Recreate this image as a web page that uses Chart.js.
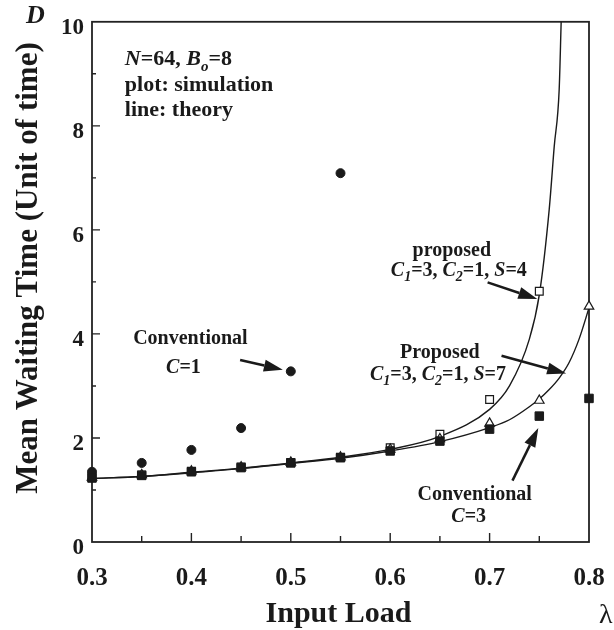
<!DOCTYPE html>
<html>
<head>
<meta charset="UTF-8">
<title>Mean Waiting Time vs Input Load</title>
<script src="https://cdn.jsdelivr.net/npm/chart.js"></script>
<style>
    html, body { margin: 0; padding: 0; background: #fff; }
    #wrap { width: 614px; height: 630px; position: relative; }
</style>
</head>
<body>
<div id="wrap"><canvas id="chart"></canvas></div>
<script>
// simulation points
const loads = [0.3, 0.35, 0.4, 0.45, 0.5, 0.55, 0.6, 0.65, 0.7, 0.75, 0.8];
const conventionalC1 = [1.35, 1.52, 1.77, 2.19, 3.28, 7.09];
const conventionalC3 = [1.23, 1.28, 1.35, 1.43, 1.52, 1.62, 1.75, 1.94, 2.17, 2.42, 2.76];
const proposedS4 = [1.24, 1.29, 1.36, 1.44, 1.53, 1.63, 1.81, 2.07, 2.74, 4.82];
const proposedS7 = [1.24, 1.29, 1.36, 1.44, 1.53, 1.63, 1.78, 1.98, 2.28, 2.72, 4.53];

// theory curves
const theoryLoadS4 = [0.3, 0.35, 0.4, 0.45, 0.5, 0.55, 0.6, 0.65, 0.7, 0.72, 0.74, 0.75, 0.76, 0.765, 0.77, 0.772];
const theoryS4 = [1.22, 1.26, 1.34, 1.42, 1.52, 1.63, 1.78, 2.03, 2.55, 3.0, 3.9, 4.75, 6.4, 7.6, 8.7, 10];
const theoryLoadS7 = [0.3, 0.35, 0.4, 0.45, 0.5, 0.55, 0.6, 0.65, 0.7, 0.72, 0.74, 0.75, 0.76, 0.77, 0.78, 0.79, 0.8];
const theoryS7 = [1.22, 1.26, 1.33, 1.41, 1.51, 1.61, 1.75, 1.93, 2.2, 2.35, 2.6, 2.75, 2.93, 3.15, 3.45, 3.9, 4.5];

const xTicks = [0.3, 0.4, 0.5, 0.6, 0.7, 0.8];
const yTicks = [0, 2, 4, 6, 8, 10];

const SERIF = "'Liberation Serif', 'Times New Roman', serif";
const INK = '#1a1a1a';

function pairs(xs, ys) {
    return ys.map((y, i) => ({ x: xs[i], y: y }));
}

// text made of runs: {t, i (italic), sub}
function drawRuns(ctx, runs, x, y, size, align) {
    const fontFor = r => (r.i ? 'italic ' : '') + 'bold ' + (r.sub ? Math.round(size * 0.7) : size) + 'px ' + SERIF;
    let total = 0;
    runs.forEach(r => { ctx.font = fontFor(r); total += ctx.measureText(r.t).width; });
    let cx = align === 'center' ? x - total / 2 : x;
    ctx.textAlign = 'left';
    ctx.textBaseline = 'alphabetic';
    runs.forEach(r => {
        ctx.font = fontFor(r);
        ctx.fillText(r.t, cx, r.sub ? y + size * 0.25 : y);
        cx += ctx.measureText(r.t).width;
    });
}

function drawArrow(ctx, x1, y1, x2, y2) {
    const ang = Math.atan2(y2 - y1, x2 - x1);
    const head = 19, half = 6;
    const bx = x2 - head * Math.cos(ang), by = y2 - head * Math.sin(ang);
    ctx.strokeStyle = INK;
    ctx.lineWidth = 2.5;
    ctx.beginPath();
    ctx.moveTo(x1, y1);
    ctx.lineTo(bx, by);
    ctx.stroke();
    ctx.fillStyle = INK;
    ctx.beginPath();
    ctx.moveTo(x2, y2);
    ctx.lineTo(bx + half * Math.sin(ang), by - half * Math.cos(ang));
    ctx.lineTo(bx - half * Math.sin(ang), by + half * Math.cos(ang));
    ctx.closePath();
    ctx.fill();
}

// annotations in data units
const notes = [
    { at: [0.399, 3.81], runs: [{ t: 'Conventional' }] },
    { at: [0.392, 3.24], runs: [{ t: 'C', i: 1 }, { t: '=1' }] },
    { at: [0.662, 5.50], runs: [{ t: 'proposed' }] },
    { at: [0.669, 5.12], runs: [{ t: 'C', i: 1 }, { t: '1', i: 1, sub: 1 }, { t: '=3, ' }, { t: 'C', i: 1 }, { t: '2', i: 1, sub: 1 }, { t: '=1, ' }, { t: 'S', i: 1 }, { t: '=4' }] },
    { at: [0.650, 3.54], runs: [{ t: 'Proposed' }] },
    { at: [0.648, 3.12], runs: [{ t: 'C', i: 1 }, { t: '1', i: 1, sub: 1 }, { t: '=3, ' }, { t: 'C', i: 1 }, { t: '2', i: 1, sub: 1 }, { t: '=1, ' }, { t: 'S', i: 1 }, { t: '=7' }] },
    { at: [0.685, 0.80], runs: [{ t: 'Conventional' }] },
    { at: [0.679, 0.38], runs: [{ t: 'C', i: 1 }, { t: '=3' }] }
];
const arrows = [
    [0.449, 3.50, 0.492, 3.31],
    [0.698, 4.99, 0.748, 4.67],
    [0.712, 3.58, 0.777, 3.24],
    [0.723, 1.18, 0.749, 2.19]
];
const legendLines = [
    { at: [0.333, 9.16], runs: [{ t: 'N', i: 1 }, { t: '=64, ' }, { t: 'B', i: 1 }, { t: 'o', i: 1, sub: 1 }, { t: '=8' }] },
    { at: [0.333, 8.67], runs: [{ t: 'plot: simulation' }] },
    { at: [0.333, 8.19], runs: [{ t: 'line: theory' }] }
];

const framePlugin = {
    id: 'frame',
    beforeDatasetsDraw(chart) {
        const { ctx, chartArea: a, scales: { x, y } } = chart;
        ctx.save();
        ctx.strokeStyle = '#222';
        ctx.lineWidth = 1.8;
        ctx.strokeRect(a.left, a.top, a.right - a.left, a.bottom - a.top);
        ctx.lineWidth = 1.4;
        ctx.beginPath();
        for (let v = 0.35; v < 0.8; v += 0.05) {
            const px = x.getPixelForValue(v);
            const major = Math.abs(v * 10 - Math.round(v * 10)) < 1e-6;
            ctx.moveTo(px, a.bottom);
            ctx.lineTo(px, a.bottom - (major ? 9 : 6));
        }
        for (let v = 1; v < 10; v++) {
            const py = y.getPixelForValue(v);
            ctx.moveTo(a.left, py);
            ctx.lineTo(a.left + (v % 2 === 0 ? 8 : 4), py);
        }
        ctx.stroke();
        ctx.restore();
    },
    afterDraw(chart) {
        const { ctx, chartArea: a, scales: { x, y } } = chart;
        ctx.save();
        ctx.fillStyle = INK;
        legendLines.forEach(l => drawRuns(ctx, l.runs, x.getPixelForValue(l.at[0]), y.getPixelForValue(l.at[1]), 22, 'left'));
        notes.forEach(n => drawRuns(ctx, n.runs, x.getPixelForValue(n.at[0]), y.getPixelForValue(n.at[1]), 20, 'center'));
        arrows.forEach(r => drawArrow(ctx, x.getPixelForValue(r[0]), y.getPixelForValue(r[1]), x.getPixelForValue(r[2]), y.getPixelForValue(r[3])));

        // axis titles
        ctx.fillStyle = INK;
        ctx.font = 'bold italic 26px ' + SERIF;
        ctx.textAlign = 'left';
        ctx.textBaseline = 'alphabetic';
        ctx.fillText('D', 26, 23);

        ctx.font = 'bold 30px ' + SERIF;
        ctx.textAlign = 'center';
        ctx.textBaseline = 'middle';
        ctx.fillText('Input Load', (a.left + a.right) / 2 - 2, 614);

        ctx.save();
        ctx.font = 'bold 31px ' + SERIF;
        ctx.translate(29, 268);
        ctx.rotate(-Math.PI / 2);
        ctx.fillText('Mean Waiting Time (Unit of time)', 0, 0);
        ctx.restore();

        ctx.font = '28px ' + SERIF;
        ctx.textAlign = 'left';
        ctx.fillText('\u03bb', 599, 616);
        ctx.restore();
    }
};

new Chart(document.getElementById('chart'), {
    type: 'scatter',
    data: {
        datasets: [
            {
                label: 'Conventional C=3',
                data: pairs(loads, conventionalC3),
                pointStyle: 'rect',
                pointRadius: 6,
                backgroundColor: INK,
                borderColor: INK,
                borderWidth: 1
            },
            {
                label: 'Conventional C=1',
                data: pairs(loads, conventionalC1),
                pointStyle: 'circle',
                pointRadius: 4.5,
                backgroundColor: INK,
                borderColor: INK,
                borderWidth: 1
            },
            {
                label: 'Proposed S=7',
                data: pairs(loads, proposedS7),
                pointStyle: 'triangle',
                pointRadius: 5.5,
                backgroundColor: '#fff',
                borderColor: INK,
                borderWidth: 1.2
            },
            {
                label: 'proposed S=4',
                data: pairs(loads, proposedS4),
                pointStyle: 'rect',
                pointRadius: 5.5,
                backgroundColor: '#fff',
                borderColor: INK,
                borderWidth: 1.2
            },
            {
                label: 'theory S=4',
                data: pairs(theoryLoadS4, theoryS4),
                showLine: true,
                pointRadius: 0,
                borderColor: INK,
                borderWidth: 1.4,
                cubicInterpolationMode: 'monotone'
            },
            {
                label: 'theory S=7',
                data: pairs(theoryLoadS7, theoryS7),
                showLine: true,
                pointRadius: 0,
                borderColor: INK,
                borderWidth: 1.4,
                cubicInterpolationMode: 'monotone'
            }
        ]
    },
    options: {
        responsive: true,
        maintainAspectRatio: false,
        animation: false,
        events: [],
        clip: false,
        layout: { padding: { left: 0, top: 17, right: 25, bottom: 0 } },
        plugins: {
            legend: { display: false },
            tooltip: { enabled: false }
        },
        scales: {
            x: {
                type: 'linear',
                min: 0.3,
                max: 0.8,
                afterBuildTicks: s => { s.ticks = xTicks.map(v => ({ value: v })); },
                afterFit: s => { s.height = 88; s.paddingLeft = 0; s.paddingRight = 0; },
                grid: { display: false, drawTicks: false },
                border: { display: false },
                ticks: {
                    padding: 22,
                    color: INK,
                    font: { family: SERIF, size: 25, weight: 'bold' },
                    callback: v => v.toFixed(1)
                }
            },
            y: {
                min: 0,
                max: 10,
                afterBuildTicks: s => { s.ticks = yTicks.map(v => ({ value: v })); },
                afterFit: s => { s.width = 92; },
                grid: { display: false, drawTicks: false },
                border: { display: false },
                ticks: {
                    padding: 8,
                    labelOffset: 6,
                    color: INK,
                    font: { family: SERIF, size: 23, weight: 'bold' },
                    callback: v => String(v)
                }
            }
        }
    },
    plugins: [framePlugin]
});
</script>
</body>
</html>
